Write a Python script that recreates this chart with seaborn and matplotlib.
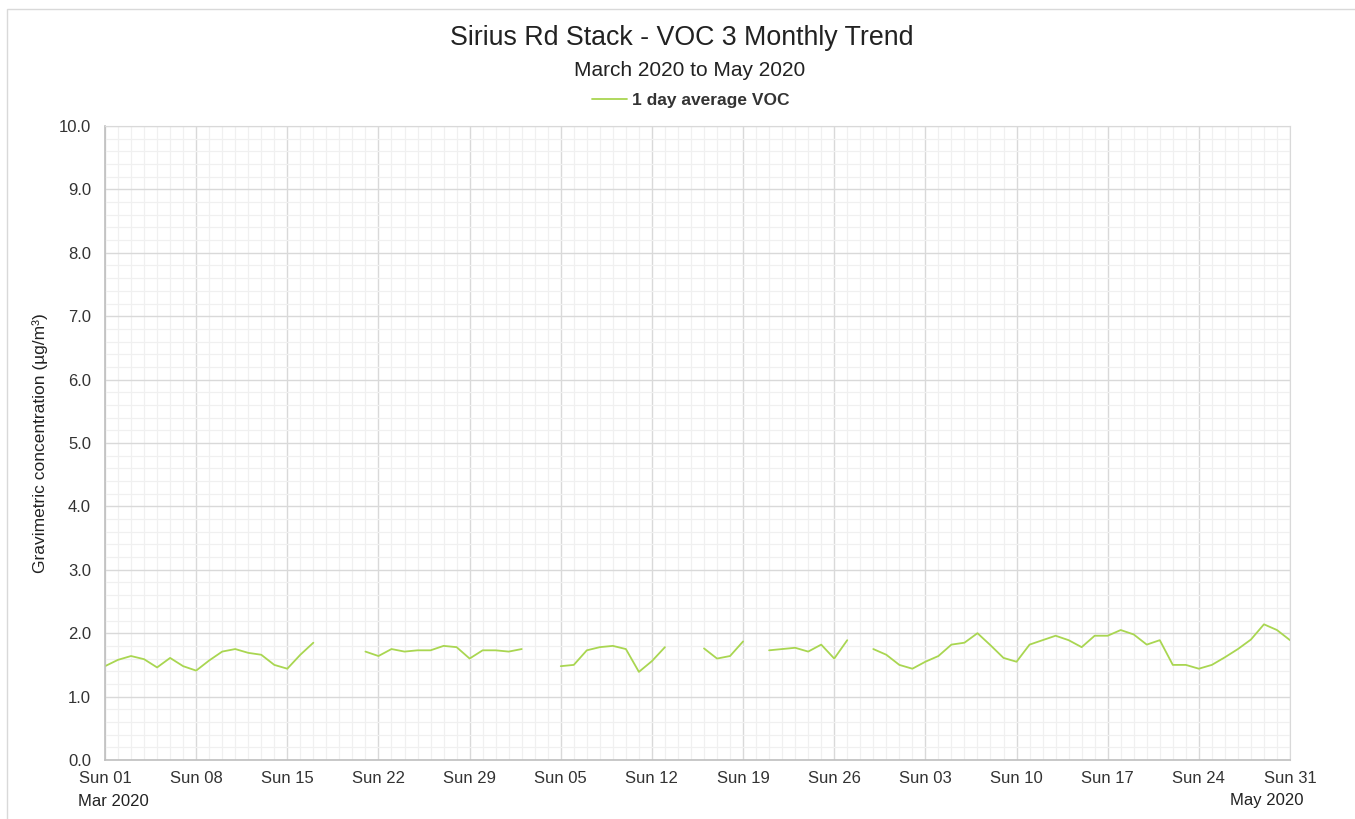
import numpy as np
import pandas as pd
import seaborn as sns
import matplotlib.pyplot as plt
import matplotlib.dates as mdates
from matplotlib.lines import Line2D
from matplotlib.patches import Rectangle
from matplotlib.ticker import MultipleLocator

# =============================
# DATA
# =============================

dates = pd.date_range("2020-03-01", "2020-05-31", freq="D")

nan = np.nan
voc_1day = [
    1.48, 1.58, 1.64, 1.59, 1.46, 1.61, 1.48, 1.41, 1.57, 1.71,
    1.75, 1.69, 1.66, 1.50, 1.44, 1.66, 1.85, nan, nan, nan,
    1.71, 1.64, 1.75, 1.71, 1.73, 1.73, 1.80, 1.78, 1.60, 1.73,
    1.73, 1.71, 1.75, nan, nan, 1.48, 1.50, 1.73, 1.78, 1.80,
    1.75, 1.39, 1.56, 1.78, nan, nan, 1.76, 1.60, 1.64, 1.87,
    nan, 1.73, 1.75, 1.77, 1.71, 1.82, 1.60, 1.89, nan, 1.75,
    1.66, 1.50, 1.44, 1.55, 1.64, 1.82, 1.85, 2.00, 1.81, 1.61,
    1.55, 1.82, 1.89, 1.96, 1.89, 1.78, 1.96, 1.96, 2.05, 1.98,
    1.82, 1.89, 1.50, 1.50, 1.44, 1.50, 1.62, 1.75, 1.90, 2.14,
    2.05, 1.89,
]

title = "Sirius Rd Stack - VOC 3 Monthly Trend"
subtitle = "March 2020 to May 2020"
series_name = "1 day average VOC"
y_label = "Gravimetric concentration (µg/m³)"

df = pd.DataFrame({"Date": dates, "VOC": voc_1day})
# segment id so gaps in the data stay gaps
df["seg"] = df["VOC"].isna().cumsum()
df = df.dropna()

# =============================
# PLOT
# =============================

sns.set_style("white")
plt.rcParams["font.family"] = ["Liberation Sans", "DejaVu Sans"]

line_color = "#A9D651"

fig = plt.figure(figsize=(13.55, 8.19), dpi=100)
ax = fig.add_axes([105 / 1355, 59 / 819, 1185 / 1355, 634 / 819])

sns.lineplot(data=df, x="Date", y="VOC", units="seg", estimator=None,
             color=line_color, linewidth=1.3, ax=ax)

ax.set_ylim(0, 10)
ax.set_xlim(dates[0], dates[-1])
ax.yaxis.set_major_locator(MultipleLocator(1.0))
ax.yaxis.set_minor_locator(MultipleLocator(0.2))
ax.yaxis.set_major_formatter(plt.FormatStrFormatter("%.1f"))

ax.xaxis.set_major_locator(mdates.WeekdayLocator(byweekday=mdates.SU))
ax.xaxis.set_minor_locator(mdates.DayLocator())
ax.xaxis.set_major_formatter(mdates.DateFormatter("Sun %d"))

ax.grid(which="major", color="#D9D9D9", linewidth=1.0)
ax.grid(which="minor", color="#F0F0F0", linewidth=0.9)
ax.set_axisbelow(True)

ax.tick_params(which="both", length=0)
ax.tick_params(axis="x", labelsize=12, colors="#333333", pad=8)
ax.tick_params(axis="y", labelsize=12, colors="#333333", pad=10)

for side in ["top", "right"]:
    ax.spines[side].set_color("#D9D9D9")
for side in ["left", "bottom"]:
    ax.spines[side].set_color("#BFBFBF")
    ax.spines[side].set_linewidth(1.2)

ax.set_xlabel("")
ax.set_ylabel(y_label, fontsize=12.5, color="#222222", labelpad=8)

# month labels under first and last tick
fig.text(113 / 1355, 1 - 801 / 819, "Mar 2020", ha="center", va="center",
         fontsize=12, color="#222222")
fig.text(1267 / 1355, 1 - 801 / 819, "May 2020", ha="center", va="center",
         fontsize=12, color="#222222")

fig.text(682 / 1355, 1 - 38 / 819, title, ha="center", va="center",
         fontsize=19.3, color="#222222")
fig.text(690 / 1355, 1 - 70 / 819, subtitle, ha="center", va="center",
         fontsize=15, color="#222222")

handle = Line2D([], [], color=line_color, linewidth=1.3)
leg = fig.legend([handle], [series_name], loc="center",
                 bbox_to_anchor=(691 / 1355, 1 - 100 / 819), frameon=False,
                 handlelength=2.0, handletextpad=0.3,
                 prop={"weight": "bold", "size": 12.5})
for t in leg.get_texts():
    t.set_color("#333333")

# outer chart border
fig.patches.append(Rectangle((7 / 1355, -0.01), 1.0, 1 - 9 / 819 + 0.01,
                             transform=fig.transFigure, fill=False,
                             edgecolor="#D9D9D9", linewidth=1.0))

fig.savefig("out.png", dpi=100)
